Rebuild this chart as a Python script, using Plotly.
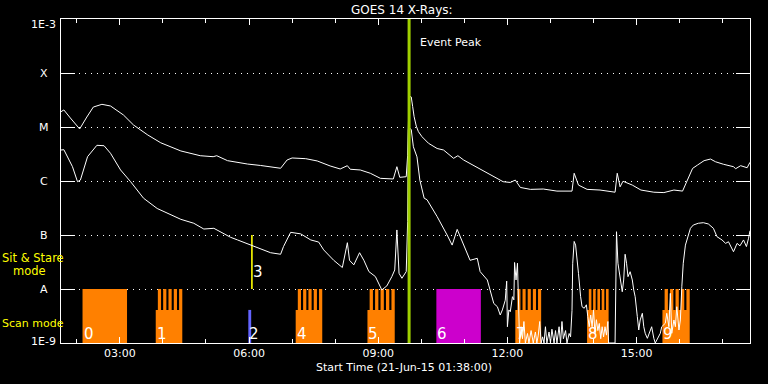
import math
import pandas as pd
import plotly.graph_objects as go

DAY = "2015-06-21"

# ---------------- data ----------------
# GOES 1-8 A (long channel)
up_t = ["01:38","01:42","01:51","02:04","02:14","02:23","02:35","02:47","03:05","03:19",
        "03:39","03:57","04:25","04:52","05:10","05:15","05:30","05:58","06:16","06:44",
        "06:53","07:00","07:19","07:35","07:53","08:07","08:17","08:21","08:35","08:49",
        "09:03","09:21","09:26","09:30","09:39","09:41","09:43","09:46","09:48","09:50",
        "09:53","09:56","10:01","10:10","10:22","10:31","10:45","10:51","10:59","11:18",
        "11:36","11:54","12:04","12:11","12:18","12:32","12:50","13:09","13:30","13:33",
        "13:39","13:51","14:09","14:30","14:33","14:37","14:41","14:54","15:06","15:24",
        "15:38","15:52","16:04","16:11","16:18","16:25","16:34","16:43","16:50","17:01",
        "17:15","17:18","17:25","17:34","17:38"]
up_v = [1.92e-5, 2.07e-5, 1.47e-5, 9.2e-6, 1.53e-5, 2.34e-5, 2.63e-5, 2.45e-5, 1.67e-5, 1.09e-5,
        7.1e-6, 5.1e-6, 3.6e-6, 2.94e-6, 2.82e-6, 2.94e-6, 2.38e-6, 2.06e-6, 1.94e-6, 1.72e-6,
        2.45e-6, 2.67e-6, 2.59e-6, 2.35e-6, 1.90e-6, 1.67e-6, 1.92e-6, 1.65e-6, 1.60e-6, 1.39e-6,
        1.12e-6, 1.09e-6, 1.84e-6, 1.17e-6, 1.2e-6, 3.0e-6, 3.7e-5, 3.6e-5, 2.38e-5, 1.55e-5,
        1.04e-5, 8.2e-6, 6.6e-6, 5.0e-6, 4.0e-6, 3.75e-6, 2.63e-6, 2.94e-6, 2.45e-6, 1.79e-6,
        1.29e-6, 9.7e-7, 9.4e-7, 1.04e-6, 7.6e-7, 7.0e-7, 7.1e-7, 6.5e-7, 6.5e-7, 1.39e-6,
        8.4e-7, 7.0e-7, 6.8e-7, 6.2e-7, 1.39e-6, 7.8e-7, 9.9e-7, 8.4e-7, 6.8e-7, 6.2e-7,
        6.1e-7, 6.8e-7, 6.5e-7, 1.04e-6, 1.71e-6, 1.98e-6, 2.38e-6, 2.55e-6, 2.27e-6, 2.04e-6,
        1.84e-6, 1.69e-6, 1.92e-6, 1.76e-6, 2.22e-6]

# GOES 0.5-4 A (short channel)
lo_t = ["01:38","01:42","01:54","02:01","02:05","02:15","02:28","02:38","02:47","03:01",
        "03:15","03:33","03:52","04:11","04:25","04:43","04:57","05:11","05:20","05:34",
        "05:44","06:02","06:16","06:30","06:44","06:48","06:58","07:12","07:26","07:37",
        "07:44","07:58","08:10","08:17","08:20","08:26","08:34","08:40","08:47","08:56",
        "09:05","09:12","09:19","09:23","09:26","09:29","09:33","09:39","09:41","09:42",
        "09:44","09:46","09:49","09:54","09:58","10:04","10:08","10:22","10:36","10:43",
        "10:50","10:57","11:08","11:18","11:22","11:32","11:36","11:41","11:46","11:50",
        "11:53","11:57","11:59","12:00","12:02","12:04","12:07","12:09","12:10","12:12",
        "12:14","12:16","12:17","12:19","12:21","12:23","12:25","12:28","12:30","12:33",
        "12:36","12:39","12:41","12:43","12:45","12:47","12:49","12:51","12:53","12:55",
        "12:58","13:00","13:02","13:05","13:07","13:09","13:12","13:14","13:16","13:18",
        "13:21","13:23","13:26","13:28","13:30","13:31","13:32","13:33","13:35","13:37",
        "13:39","13:42","13:44","13:47","13:50","13:52","13:54","13:56","13:58","14:00",
        "14:02","14:04","14:06","14:08","14:10","14:12","14:14","14:16","14:18","14:20",
        "14:21","14:30","14:32","14:34","14:37","14:40","14:42","14:44","14:46","14:48",
        "14:51","14:54","14:56","14:58","15:01","15:03","15:05","15:08","15:10","15:12",
        "15:15","15:19","15:21","15:24","15:26","15:33","15:35","15:40","15:42","15:45",
        "15:47","15:49","15:52","15:54","15:56","15:59","16:01","16:03","16:05","16:08",
        "16:10","16:12","16:15","16:19","16:26","16:33","16:40","16:47","16:52","16:59",
        "17:04","17:08","17:15","17:20","17:24","17:29","17:33","17:36","17:38"]
lo_v = [3.75e-6, 3.8e-6, 1.84e-6, 9.7e-7, 1.04e-6, 2.82e-6, 4.58e-6, 4.5e-6, 3.26e-6, 1.6e-6,
        9.7e-7, 4.8e-7, 3.1e-7, 2.4e-7, 1.95e-7, 1.65e-7, 1.29e-7, 1.33e-7, 1.15e-7, 9.1e-8,
        8.1e-8, 6.5e-8, 5.4e-8, 4.7e-8, 4.4e-8, 6.1e-8, 1.12e-7, 1.05e-7, 8.1e-8, 7.4e-8,
        5.3e-8, 3.4e-8, 2.5e-8, 7.2e-8, 3.4e-8, 2.8e-8, 4.7e-8, 3.4e-8, 2.1e-8, 1.7e-8,
        9.6e-9, 1.14e-8, 1.7e-8, 2.25e-8, 1.24e-7, 1.95e-8, 1.58e-8, 2.1e-8, 1.76e-7, 9.0e-6,
        9.4e-6, 9.0e-6, 4.3e-6, 2.8e-6, 1.04e-6, 4.8e-7, 4.5e-7, 2.2e-7, 1.0e-7, 6.5e-8,
        1.27e-7, 7.5e-8, 3.4e-8, 3.7e-8, 2.1e-8, 1.47e-8, 9.6e-9, 5.4e-9, 4.7e-9, 3.3e-9,
        4.1e-9, 6.2e-9, 1.4e-8, 2.0e-9, 4.1e-9, 3.8e-9, 7.2e-9, 6.3e-9, 3.1e-8, 1.47e-8,
        3.0e-8, 1.74e-9, 1.0e-9, 2.0e-9, 1.2e-9, 2.5e-9, 1.0e-9, 1.5e-9, 1.0e-9, 1.7e-9,
        1.0e-9, 1.6e-9, 1.0e-9, 1.4e-9, 2.5e-9, 1.0e-9, 1.3e-9, 1.0e-9, 2.0e-9, 1.0e-9,
        1.6e-9, 1.0e-9, 1.8e-9, 1.0e-9, 1.7e-9, 1.0e-9, 2.0e-9, 1.0e-9, 2.5e-9, 1.2e-9,
        1.7e-9, 1.0e-9, 1.5e-9, 1.3e-9, 4.0e-9, 3.0e-8, 6.1e-8, 7.6e-8, 6.5e-8, 4.0e-8,
        1.95e-8, 7.2e-9, 4.7e-9, 4.4e-9, 5.1e-9, 3.07e-9, 2.0e-9, 3.3e-9, 2.0e-9, 4.1e-9,
        1.5e-9, 2.7e-9, 1.7e-9, 2.3e-9, 1.2e-9, 2.0e-9, 1.3e-9, 2.0e-9, 1.4e-9, 2.5e-9,
        1.0e-9, 1.0e-9, 1.15e-7, 3.0e-8, 1.47e-8, 8.9e-9, 1.47e-8, 4.4e-8, 3.0e-8, 1.69e-8,
        2.09e-8, 1.47e-8, 9.6e-9, 7.2e-9, 3.07e-9, 1.74e-9, 2.67e-9, 3.55e-9, 2.0e-9, 1.51e-9,
        1.22e-9, 1.74e-9, 2.0e-9, 1.22e-9, 1.0e-9, 1.51e-9, 2.0e-9, 2.32e-9, 3.55e-9, 2.0e-9,
        8.3e-9, 1.51e-9, 2.67e-9, 2.0e-9, 4.7e-9, 1.74e-9, 2.67e-9, 1.1e-8, 3.0e-8, 6.5e-8,
        8.1e-8, 1.07e-7, 1.33e-7, 1.53e-7, 1.65e-7, 1.69e-7, 1.60e-7, 1.33e-7, 9.3e-8, 8.1e-8,
        7.0e-8, 7.5e-8, 4.9e-8, 7.0e-8, 6.3e-8, 8.1e-8, 6.1e-8, 8.7e-8, 1.2e-7]

# Observing-mode intervals
mode_labels = ["0", "1", "2", "3", "4", "5", "6", "7", "8", "9"]
mode_start = ["02:08", "03:50", "05:59", "06:04", "07:05", "08:45", "10:21", "12:11", "13:51", "15:36"]
mode_end = ["03:10", "04:27", "06:03", "06:04", "07:42", "09:23", "11:23", "12:47", "14:21", "16:14"]
mode_kind = ["full", "striped", "low", "line", "striped", "striped", "full", "striped", "striped", "striped"]

FLOOR = 1e-9
SCAN_LEVEL = 4.1e-9
A_LEVEL = 1e-8
B_LEVEL = 1e-7

event_peak = "09:43"

y_tickvals = [1e-9, 1e-8, 1e-7, 1e-6, 1e-5, 1e-4, 1e-3]
y_ticktext = ["1E-9", "A", "B", "C", "M", "X", "1E-3"]

# ---------------- styles ----------------
mode_colors = ["#ff8000", "#ff8000", "#6464ff", "#ffff00", "#ff8000",
               "#ff8000", "#cc00cc", "#ff8000", "#ff8000", "#ff8000"]
PEAK_COLOR = "#a0d000"
FONT = "DejaVu Sans"


def ts(hm):
    return pd.Timestamp(f"{DAY} {hm}")


fig = go.Figure()

# mode blocks
for lab, s, e, kind, col in zip(mode_labels, mode_start, mode_end, mode_kind, mode_colors):
    t0, t1 = ts(s), ts(e)
    if kind == "line":
        fig.add_trace(go.Scatter(x=[t0, t0], y=[A_LEVEL, B_LEVEL], mode="lines",
                                 line=dict(color=col, width=1.6), hoverinfo="skip"))
        continue
    if kind == "full":
        xs = [t0, t0, t1, t1, t0]
        ys = [FLOOR, A_LEVEL, A_LEVEL, FLOOR, FLOOR]
    elif kind == "low":
        xs = [t0, t0, t1, t1, t0]
        ys = [FLOOR, SCAN_LEVEL, SCAN_LEVEL, FLOOR, FLOOR]
    else:
        w = t1 - t0
        slot = w / 5
        xs = [t0, t0]
        ys = [FLOOR, SCAN_LEVEL]
        for i in range(5):
            a = t0 + slot * i + slot * 0.4
            b = t0 + slot * (i + 1)
            xs += [a, a, b, b]
            ys += [SCAN_LEVEL, A_LEVEL, A_LEVEL, SCAN_LEVEL]
        xs += [t1, t0]
        ys += [FLOOR, FLOOR]
    fig.add_trace(go.Scatter(x=xs, y=ys, mode="lines", fill="toself", fillcolor=col,
                             line=dict(color=col, width=0), hoverinfo="skip"))

# curves
fig.add_trace(go.Scatter(x=[ts(t) for t in up_t], y=up_v, mode="lines",
                         line=dict(color="white", width=1)))
fig.add_trace(go.Scatter(x=[ts(t) for t in lo_t], y=lo_v, mode="lines",
                         line=dict(color="white", width=1)))

# event peak line
fig.add_trace(go.Scatter(x=[ts(event_peak), ts(event_peak)], y=[1e-9, 1e-3], mode="lines",
                         line=dict(color=PEAK_COLOR, width=3), hoverinfo="skip"))

annotations = []
# y tick labels (centered, like the IDL plot)
for v, txt in zip(y_tickvals, y_ticktext):
    shift = 0
    if txt == "1E-3":
        shift = -5
    elif txt == "1E-9":
        shift = 2
    annotations.append(dict(x=-0.0247, xref="paper", y=math.log10(v), yref="y", text=txt,
                            showarrow=False, xanchor="center", yanchor="middle", yshift=shift,
                            font=dict(family=FONT, size=11, color="white")))

# block labels
for lab, s, kind in zip(mode_labels, mode_start, mode_kind):
    yv = -7.685 if kind == "line" else -8.83
    annotations.append(dict(x=ts(s), xref="x", y=yv, yref="y", text=lab,
                            showarrow=False, xanchor="left", yanchor="middle", xshift=-1,
                            font=dict(family=FONT, size=15, color="white")))

annotations += [
    dict(x=ts(event_peak), xref="x", y=-3.444, yref="y", text="Event Peak", showarrow=False,
         xanchor="left", yanchor="middle", xshift=9, font=dict(family=FONT, size=11, color="white")),
    dict(x=0.495, xref="paper", y=1.028, yref="paper", text="GOES 14 X-Rays:", showarrow=False,
         xanchor="center", yanchor="middle", font=dict(family=FONT, size=12, color="white")),
    dict(x=0.498, xref="paper", y=-0.077, yref="paper", text="Start Time (21-Jun-15 01:38:00)",
         showarrow=False, xanchor="center", yanchor="middle",
         font=dict(family=FONT, size=11, color="white")),
    dict(x=-0.0885, xref="paper", y=-7.426, yref="y", text="Sit & Stare", showarrow=False,
         xanchor="left", yanchor="middle", font=dict(family=FONT, size=11.5, color="#ffff00")),
    dict(x=-0.072, xref="paper", y=-7.667, yref="y", text="mode", showarrow=False,
         xanchor="left", yanchor="middle", font=dict(family=FONT, size=11.5, color="#ffff00")),
    dict(x=-0.0885, xref="paper", y=-8.648, yref="y", text="Scan mode", showarrow=False,
         xanchor="left", yanchor="middle", font=dict(family=FONT, size=11, color="#ffff00")),
]

fig.update_layout(
    width=768, height=384,
    margin=dict(l=61, r=18, t=19, b=41),
    paper_bgcolor="black", plot_bgcolor="black",
    showlegend=False,
    annotations=annotations,
    font=dict(family=FONT, size=11, color="white"),
)
fig.update_xaxes(
    type="date", range=[ts("01:38"), ts("17:38")],
    tick0=ts("00:00"), dtick=3 * 3600000, tickformat="%H:%M",
    ticks="inside", ticklen=6, tickcolor="white", tickwidth=1,
    minor=dict(dtick=3600000, ticks="inside", ticklen=4, tickcolor="white", showgrid=False),
    showgrid=False, zeroline=False,
    showline=True, linecolor="white", linewidth=1, mirror="ticks",
    tickfont=dict(family=FONT, size=11, color="white"),
)
fig.update_yaxes(
    type="log", range=[-9, -3],
    tickvals=y_tickvals, ticktext=y_ticktext, showticklabels=False,
    ticks="inside", ticklen=14, tickcolor="white", tickwidth=1,
    showgrid=True, gridcolor="white", gridwidth=1, griddash="1px,5px",
    zeroline=False, showline=True, linecolor="white", linewidth=1, mirror="ticks",
)

fig.write_html("out.html")
